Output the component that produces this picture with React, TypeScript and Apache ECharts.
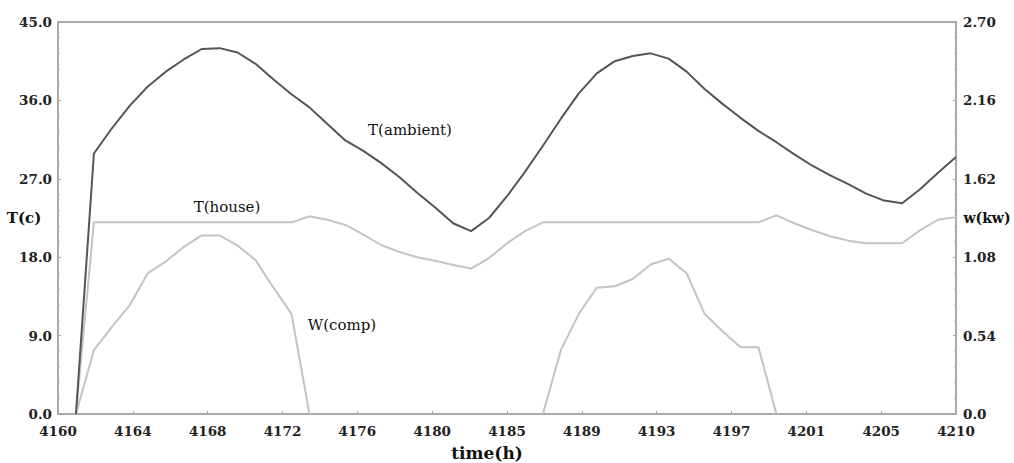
import React, { useEffect, useRef } from "react";
import * as echarts from "echarts";

const hours = [
  4161, 4162, 4163, 4164, 4165, 4166, 4167, 4168, 4169, 4170,
  4171, 4172, 4173, 4174, 4175, 4176, 4177, 4178, 4179, 4180,
  4181, 4182, 4183, 4184, 4185, 4186, 4187, 4188, 4189, 4190,
  4191, 4192, 4193, 4194, 4195, 4196, 4197, 4198, 4199, 4200,
  4201, 4202, 4203, 4204, 4205, 4206, 4207, 4208, 4209, 4210,
];

const tAmbient = [
  0, 29.9, 32.8, 35.4, 37.6, 39.3, 40.7, 41.9, 42.0, 41.5,
  40.2, 38.4, 36.7, 35.2, 33.3, 31.4, 30.2, 28.8, 27.2, 25.4,
  23.7, 21.9, 21.0, 22.5, 25.0, 27.8, 30.8, 33.9, 36.8, 39.1,
  40.5, 41.1, 41.4, 40.8, 39.3, 37.3, 35.6, 34.0, 32.5, 31.2,
  29.8, 28.5, 27.4, 26.4, 25.3, 24.5, 24.2, 25.8, 27.7, 29.5,
];

const tHouse = [
  0, 22.0, 22.0, 22.0, 22.0, 22.0, 22.0, 22.0, 22.0, 22.0,
  22.0, 22.0, 22.0, 22.7, 22.3, 21.7, 20.6, 19.4, 18.6, 18.0,
  17.6, 17.1, 16.7, 17.9, 19.6, 21.0, 22.0, 22.0, 22.0, 22.0,
  22.0, 22.0, 22.0, 22.0, 22.0, 22.0, 22.0, 22.0, 22.0, 22.8,
  21.9, 21.1, 20.4, 19.9, 19.6, 19.6, 19.6, 21.1, 22.3, 22.6,
];

const wComp = [
  0, 0.44, 0.60, 0.75, 0.97, 1.05, 1.15, 1.23, 1.23, 1.16,
  1.06, 0.87, 0.69, 0, null, null, null, null, null, null,
  null, null, null, null, null, null, 0, 0.44, 0.69, 0.87,
  0.88, 0.93, 1.03, 1.07, 0.97, 0.69, 0.57, 0.46, 0.46, 0,
  null, null, null, null, null, null, null, null, null, null,
];

const xTickLabels = [
  "4160", "4164", "4168", "4172", "4176", "4180", "4185",
  "4189", "4193", "4197", "4201", "4205", "4210",
];

const X_START = 4160;
const X_END = 4210;

const SERIF = "'DejaVu Serif', 'Liberation Serif', serif";

export default function App() {
  const ref = useRef<HTMLDivElement>(null);

  useEffect(() => {
    if (!ref.current) return;
    const chart = echarts.init(ref.current, undefined, { renderer: "svg" });
    const span = X_END - X_START;
    const step = span / (xTickLabels.length - 1);
    const tickValues = xTickLabels.map((_, i) => i * step);
    const toXY = (arr: (number | null)[]) =>
      hours.map((h, i) => [h - X_START, arr[i]]);

    const labelStyle = { fontFamily: SERIF, fontSize: 13.5, fontWeight: "bold" as const, color: "#222" };

    chart.setOption({
      animation: false,
      backgroundColor: "#fff",
      grid: {
        left: 58,
        right: 58,
        top: 22,
        bottom: 49,
        show: true,
        borderColor: "#aaa",
        borderWidth: 2,
      },
      xAxis: {
        type: "value",
        min: 0,
        max: span,
        axisLine: { show: true, lineStyle: { color: "#aaa", width: 2 } },
        axisTick: { show: true, inside: true, length: 3, customValues: tickValues, lineStyle: { color: "#aaa" } },
        splitLine: { show: false },
        axisLabel: {
          ...labelStyle,
          margin: 10,
          customValues: tickValues,
          formatter: (v: number) => {
            const idx = Math.round(v / step);
            return xTickLabels[idx] ?? "";
          },
        },
      },
      yAxis: [
        {
          type: "value",
          min: 0,
          max: 45,
          interval: 9,
          position: "left",
          axisLine: { show: true, lineStyle: { color: "#aaa", width: 2 } },
          axisTick: { show: true, inside: true, length: 3, lineStyle: { color: "#aaa" } },
          minorTick: { show: true, splitNumber: 5, length: 2, lineStyle: { color: "#bbb" } },
          splitLine: { show: false },
          axisLabel: { ...labelStyle, margin: 6, formatter: (v: number) => v.toFixed(1) },
        },
        {
          type: "value",
          min: 0,
          max: 2.7,
          interval: 0.54,
          position: "right",
          axisLine: { show: true, lineStyle: { color: "#aaa", width: 2 } },
          axisTick: { show: true, inside: true, length: 3, lineStyle: { color: "#aaa" } },
          minorTick: { show: true, splitNumber: 5, length: 2, lineStyle: { color: "#bbb" } },
          splitLine: { show: false },
          axisLabel: {
            ...labelStyle,
            margin: 7,
            formatter: (v: number) => (Math.abs(v) < 1e-9 ? "0.0" : v.toFixed(2)),
          },
        },
      ],
      series: [
        {
          name: "W(comp)",
          type: "line",
          yAxisIndex: 1,
          data: toXY(wComp),
          showSymbol: false,
          connectNulls: false,
          lineStyle: { color: "#c4c4c4", width: 2 },
          z: 2,
        },
        {
          name: "T(house)",
          type: "line",
          yAxisIndex: 0,
          data: toXY(tHouse),
          showSymbol: false,
          lineStyle: { color: "#c4c4c4", width: 2 },
          z: 3,
        },
        {
          name: "T(ambient)",
          type: "line",
          yAxisIndex: 0,
          data: toXY(tAmbient),
          showSymbol: false,
          lineStyle: { color: "#555", width: 2 },
          z: 4,
        },
      ],
      graphic: [
        { type: "text", x: 410, y: 130, style: { text: "T(ambient)", font: `15px ${SERIF}`, fill: "#111", align: "center", verticalAlign: "middle" } },
        { type: "text", x: 227, y: 207, style: { text: "T(house)", font: `15px ${SERIF}`, fill: "#111", align: "center", verticalAlign: "middle" } },
        { type: "text", x: 342, y: 325, style: { text: "W(comp)", font: `15px ${SERIF}`, fill: "#111", align: "center", verticalAlign: "middle" } },
        { type: "text", x: 24, y: 218, style: { text: "T(c)", font: `bold 15px ${SERIF}`, fill: "#111", align: "center", verticalAlign: "middle" } },
        { type: "text", x: 987, y: 218, style: { text: "w(kw)", font: `bold 14px ${SERIF}`, fill: "#111", align: "center", verticalAlign: "middle" } },
        { type: "text", x: 487, y: 453, style: { text: "time(h)", font: `bold 17px ${SERIF}`, fill: "#111", align: "center", verticalAlign: "middle" } },
      ],
    });

    return () => chart.dispose();
  }, []);

  return (
    <div
      ref={ref}
      style={{ position: "fixed", left: 0, top: 0, width: 1014, height: 463 }}
    />
  );
}
